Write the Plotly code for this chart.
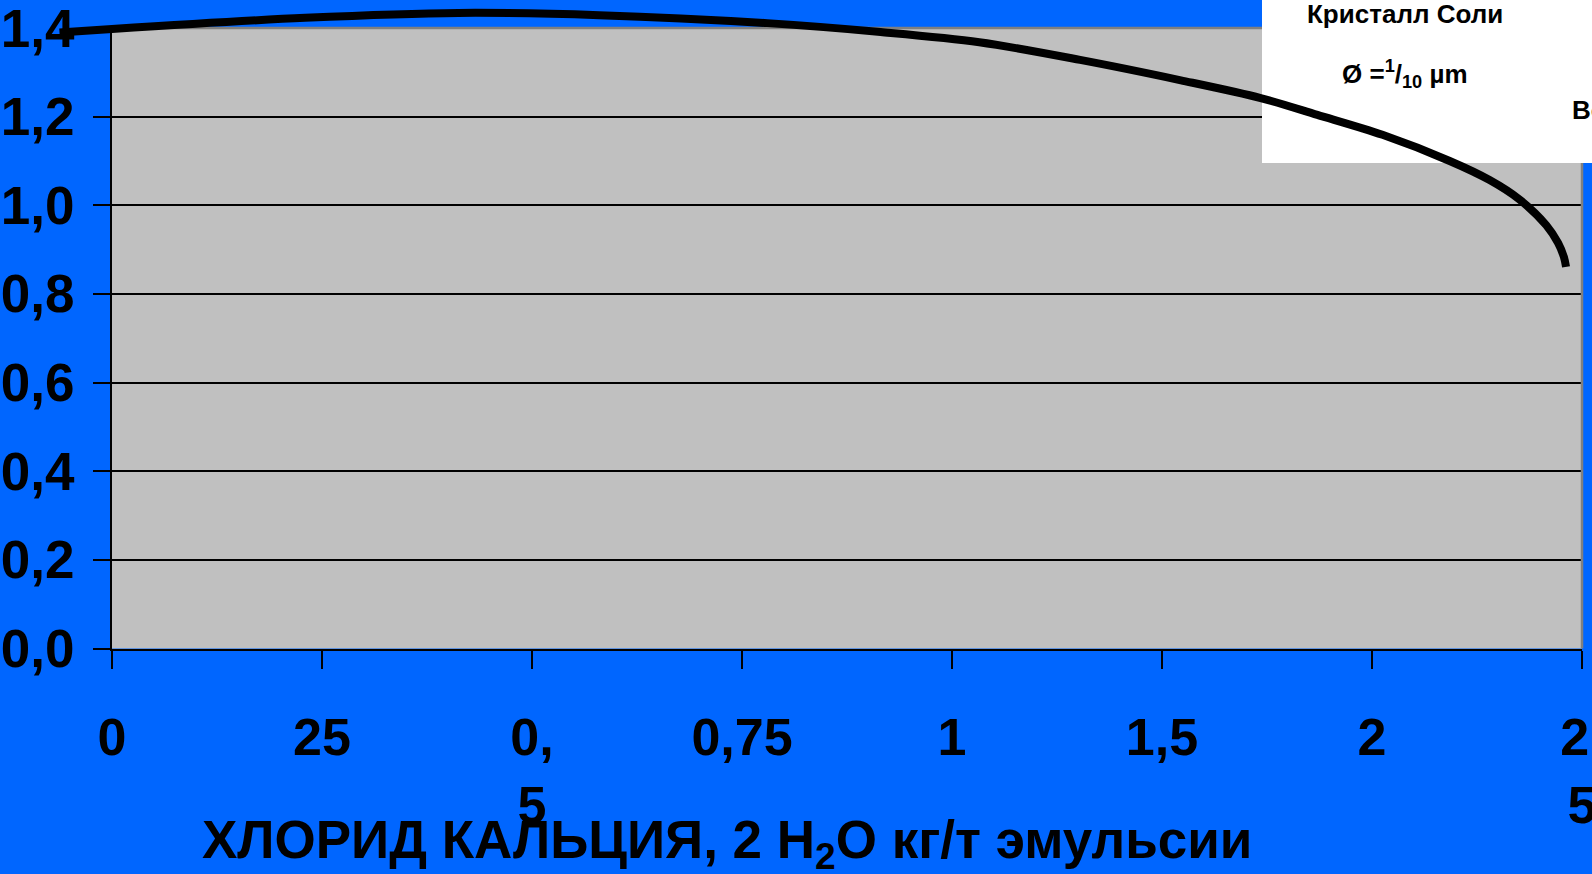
import plotly.graph_objects as go

# ---- data ----
x_positions = [0, 1, 2, 3, 4, 5, 6, 7]
x_labels = ["0", "25", "0,<br>5", "0,75", "1", "1,5", "2", "2,<br>5"]
y_ticks = [0.0, 0.2, 0.4, 0.6, 0.8, 1.0, 1.2, 1.4]
y_labels = ["0,0", "0,2", "0,4", "0,6", "0,8", "1,0", "1,2", "1,4"]

curve_x = [-0.25, 0.0, 0.92, 1.65, 2.32, 3.12, 3.66, 4.13, 4.61, 5.09, 5.47, 5.74,
           6.05, 6.37, 6.56, 6.70, 6.83, 6.886, 6.914, 6.924]
curve_y = [1.390, 1.398, 1.423, 1.434, 1.429, 1.411, 1.391, 1.368, 1.328, 1.282, 1.242, 1.204,
           1.159, 1.100, 1.057, 1.014, 0.955, 0.915, 0.883, 0.861]

x_title = "ХЛОРИД КАЛЬЦИЯ, 2 H<sub>2</sub>O кг/т эмульсии"
box_title = "Кристалл Соли"
box_size = "Ø =<sup>1</sup>/<sub>10</sub> µm"
box_cut = "Во"

# ---- layout geometry (pixels) ----
W, H = 1592, 874
PL, PR, PT, PB = 112, 1582, 28, 648.5
XMIN, XMAX = 0, 7
YMIN, YMAX = 0, 1.4

kx = (XMAX - XMIN) / (PR - PL)
ky = (YMAX - YMIN) / (PB - PT)
x2_range = [XMIN - PL * kx, XMAX + (W - PR) * kx]
y2_range = [YMIN - (H - PB) * ky, YMAX + PT * ky]

px_x = lambda p: p / W
px_y = lambda p: (H - p) / H
# pixel -> overlay (x2/y2) coordinates
ov_x = lambda p: x2_range[0] + p * kx
ov_y = lambda p: y2_range[1] - p * ky

BLUE = "#0066FF"
GRAY = "#C0C0C0"
FONT = "Liberation Sans, Arial, sans-serif"

fig = go.Figure()

# empty trace so the main (gridded) subplot exists
fig.add_trace(go.Scatter(x=[], y=[], xaxis="x", yaxis="y", mode="lines",
                         hoverinfo="skip", showlegend=False))
# the curve, on a full-figure overlay subplot with the same data scale (so it can overflow the plot area)
fig.add_trace(go.Scatter(
    x=curve_x, y=curve_y, xaxis="x2", yaxis="y2",
    mode="lines", line=dict(color="black", width=8, shape="spline", smoothing=0.9),
    hoverinfo="skip", showlegend=False,
))

fig.update_layout(
    width=W, height=H,
    margin=dict(l=0, r=0, t=0, b=0, autoexpand=False),
    paper_bgcolor=BLUE,
    plot_bgcolor="rgba(0,0,0,0)",
    showlegend=False,
    font=dict(family=FONT, color="black"),
    xaxis=dict(
        domain=[px_x(PL), px_x(PR)], range=[XMIN, XMAX], anchor="y",
        tickmode="array", tickvals=x_positions, ticktext=x_labels,
        ticks="outside", ticklen=18, tickwidth=1.5, tickcolor="black",
        ticklabelstandoff=24, ticklabeloverflow="allow",
        tickfont=dict(family=FONT, size=52, weight="bold", color="black"),
        showgrid=False, zeroline=False,
        showline=True, linecolor="black", linewidth=2,
        automargin=False, fixedrange=True,
    ),
    yaxis=dict(
        domain=[px_y(PB), px_y(PT)], range=[YMIN, YMAX], anchor="x",
        tickmode="array", tickvals=y_ticks, ticktext=y_labels,
        ticks="outside", ticklen=17, tickwidth=2, tickcolor="black",
        ticklabelstandoff=8, ticklabeloverflow="allow",
        tickfont=dict(family=FONT, size=53, weight="bold", color="black"),
        showgrid=True, gridcolor="black", gridwidth=1.5,
        zeroline=False,
        showline=True, linecolor="black", linewidth=2,
        automargin=False, fixedrange=True,
    ),
    xaxis2=dict(domain=[0, 1], range=x2_range, anchor="y2", visible=False, fixedrange=True),
    yaxis2=dict(domain=[0, 1], range=y2_range, anchor="x2", visible=False, fixedrange=True),
)

# plot area background
fig.add_shape(type="rect", xref="paper", yref="paper",
              x0=px_x(PL), x1=px_x(PR), y0=px_y(PB), y1=px_y(PT),
              fillcolor=GRAY, line_width=0, layer="below")
# gray top & right borders of the plot area (drawn over the grid, under the curve)
fig.add_shape(type="line", xref="x2", yref="y2",
              x0=ov_x(PL), x1=ov_x(PR), y0=ov_y(PT), y1=ov_y(PT),
              line=dict(color="#808080", width=2.5), layer="between")
fig.add_shape(type="line", xref="x2", yref="y2",
              x0=ov_x(PR), x1=ov_x(PR), y0=ov_y(PB), y1=ov_y(PT),
              line=dict(color="#808080", width=2.5), layer="between")
# white legend-like box (top right), over the grid and under the curve
fig.add_shape(type="rect", xref="x2", yref="y2",
              x0=ov_x(1262), x1=ov_x(W + 2), y0=ov_y(163), y1=ov_y(-2),
              fillcolor="white", line_width=0, layer="between")

fig.add_annotation(text=box_title, xref="paper", yref="paper", x=px_x(1405), y=px_y(14),
                   showarrow=False, xanchor="center", yanchor="middle",
                   font=dict(family=FONT, size=26, weight="bold", color="black"))
fig.add_annotation(text=box_size, xref="paper", yref="paper", x=px_x(1405), y=px_y(74),
                   showarrow=False, xanchor="center", yanchor="middle",
                   font=dict(family=FONT, size=26, weight="bold", color="black"))
fig.add_annotation(text=box_cut, xref="paper", yref="paper", x=px_x(1570), y=px_y(110),
                   showarrow=False, xanchor="left", yanchor="middle",
                   font=dict(family=FONT, size=26, weight="bold", color="black"))

# x-axis title
fig.add_annotation(text=x_title, xref="paper", yref="paper", x=px_x(727), y=px_y(843),
                   showarrow=False, xanchor="center", yanchor="middle",
                   font=dict(family=FONT, size=53, weight="bold", color="black"))

fig.write_html("out.html", config={"displayModeBar": False},
               post_script="document.body.style.margin='0';")
